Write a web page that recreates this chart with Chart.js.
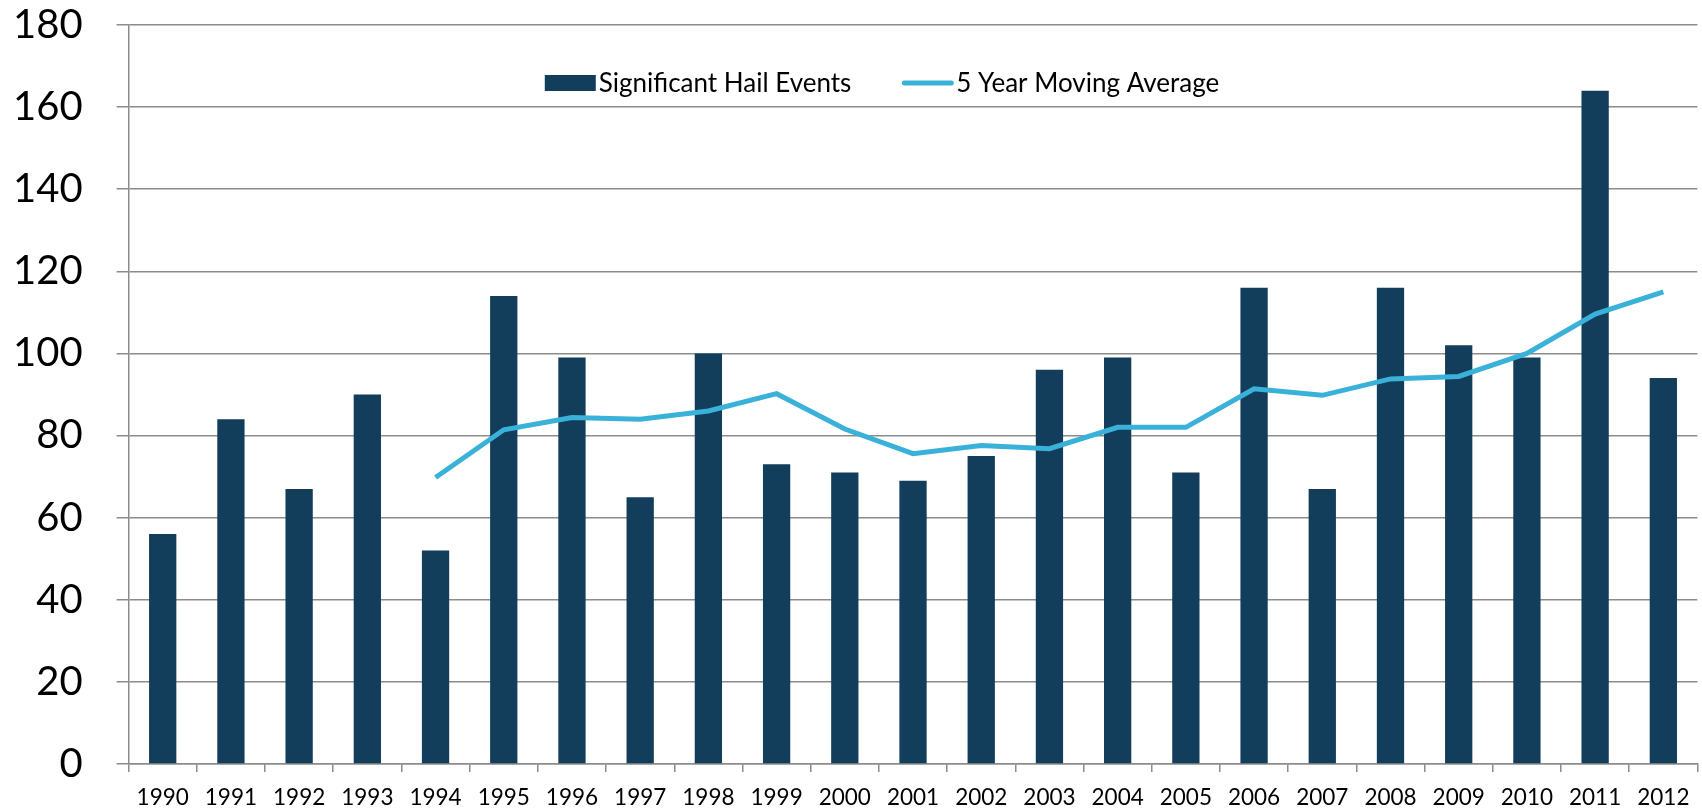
<!DOCTYPE html>
<html>
<head>
<meta charset="utf-8">
<script src="https://cdn.jsdelivr.net/npm/chart.js@4"></script>
<style>
    html, body { margin: 0; padding: 0; background: #fff; }
    #wrap { width: 1702px; height: 811px; position: relative; }
</style>
</head>
<body>
<div id="wrap"><canvas id="chart-hail"></canvas></div>
<script>
// --- DATA ---
const years = ['1990', '1991', '1992', '1993', '1994', '1995', '1996', '1997', '1998', '1999', '2000', '2001',
    '2002', '2003', '2004', '2005', '2006', '2007', '2008', '2009', '2010', '2011', '2012'];
const hailEvents = [56, 84, 67, 90, 52, 114, 99, 65, 100, 73, 71, 69, 75, 96, 99, 71, 116, 67, 116, 102, 99, 164, 94];
const movingAvg = [null, null, null, null, 69.8, 81.4, 84.4, 84, 86, 90.2, 81.6, 75.6, 77.6, 76.8, 82, 82,
    91.4, 89.8, 93.8, 94.4, 100, 109.6, 115];
const yTicks = [0, 20, 40, 60, 80, 100, 120, 140, 160, 180];

const barColor = '#123d5b';
const lineColor = '#3ab1d9';
const gridColor = '#8c8c8c';
const fontFamily = 'Lato, "Open Sans", sans-serif';

// legend drawn inside the plot area (Excel style)
const insideLegend = {
    id: 'insideLegend',
    afterDraw(chart) {
        const ctx = chart.ctx;
        const area = chart.chartArea;
        const items = chart.data.datasets.map(ds => ({ label: ds.label, type: ds.type || 'bar', color: ds.type === 'line' ? ds.borderColor : ds.backgroundColor }));
        ctx.save();
        ctx.font = '26px ' + fontFamily;
        ctx.textBaseline = 'middle';
        const sw = 51, gap = 3, itemGap = 51;
        let total = 0;
        items.forEach((it, i) => {
            total += sw + gap + ctx.measureText(it.label).width;
            if (i < items.length - 1) total += itemGap;
        });
        let x = 882 - total / 2;
        const y = area.top + 58;
        items.forEach(it => {
            if (it.type === 'line') {
                ctx.strokeStyle = it.color;
                ctx.lineWidth = 5;
                ctx.lineCap = 'round';
                ctx.beginPath();
                ctx.moveTo(x + 2, y);
                ctx.lineTo(x + sw - 2, y);
                ctx.stroke();
            } else {
                ctx.fillStyle = it.color;
                ctx.fillRect(x, y - 8, sw, 16);
            }
            x += sw + gap;
            ctx.fillStyle = '#000';
            ctx.fillText(it.label, x, y + 1);
            x += ctx.measureText(it.label).width + itemGap;
        });
        ctx.restore();
    }
};

new Chart(document.getElementById('chart-hail'), {
    type: 'bar',
    data: {
        labels: years,
        datasets: [{
            label: 'Significant Hail Events',
            data: hailEvents,
            backgroundColor: barColor,
            barPercentage: 0.4,
            categoryPercentage: 1,
            order: 2
        }, {
            type: 'line',
            label: '5 Year Moving Average',
            data: movingAvg,
            borderColor: lineColor,
            backgroundColor: lineColor,
            borderWidth: 5,
            pointRadius: 0,
            tension: 0,
            order: 1
        }]
    },
    plugins: [insideLegend],
    options: {
        responsive: true,
        maintainAspectRatio: false,
        animation: false,
        layout: { padding: { left: -21, right: 3, top: 25, bottom: -13 } },
        plugins: {
            legend: { display: false },
            tooltip: { enabled: false }
        },
        scales: {
            x: {
                grid: { display: true, offset: true, drawOnChartArea: false, color: gridColor, tickLength: 8, lineWidth: 1.5 },
                border: { color: gridColor, width: 1.5 },
                ticks: { color: '#000', font: { family: fontFamily, size: 22.5 }, padding: 12.5, maxRotation: 0, autoSkip: false }
            },
            y: {
                min: 0,
                max: 180,
                afterBuildTicks: axis => { axis.ticks = yTicks.map(v => ({ value: v })); },
                // tick padding is large, keep it from pushing the plot area down
                afterFit: axis => { axis.paddingTop = 0; axis.paddingBottom = 0; },
                grid: { color: gridColor, tickLength: 12, lineWidth: 1.5 },
                border: { color: gridColor, width: 1.5 },
                ticks: { color: '#000', font: { family: fontFamily, size: 40 }, padding: 34 }
            }
        }
    }
});
</script>
</body>
</html>
